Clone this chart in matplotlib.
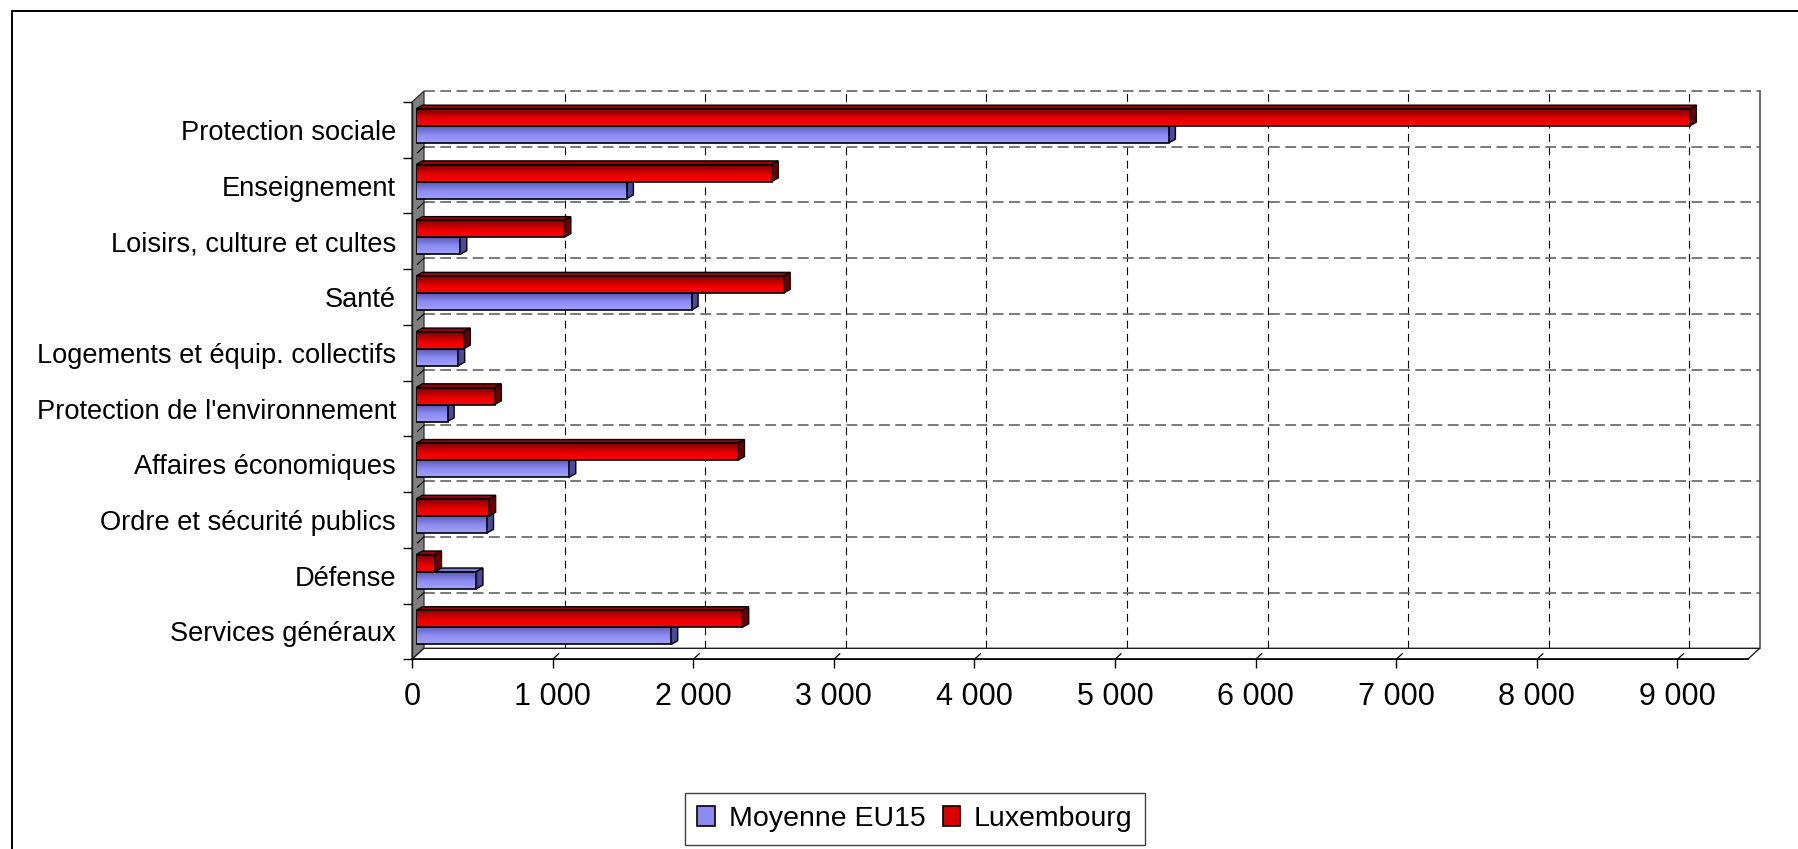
import numpy as np
import matplotlib
matplotlib.use("Agg")
import matplotlib.pyplot as plt
from matplotlib.patches import Polygon, Patch
from matplotlib.lines import Line2D
from matplotlib.colors import LinearSegmentedColormap

plt.rcParams['font.family'] = ['Liberation Sans', 'DejaVu Sans']

# ---------------- data (top to bottom, as in the chart) ----------------
categories = ["Protection sociale", "Enseignement", "Loisirs, culture et cultes",
              "Santé", "Logements et équip. collectifs",
              "Protection de l'environnement", "Affaires économiques",
              "Ordre et sécurité publics", "Défense", "Services généraux"]
eu15 = [5355, 1500, 315, 1960, 300, 225, 1090, 505, 430, 1815]
luxembourg = [9060, 2530, 1055, 2615, 340, 560, 2290, 520, 135, 2320]
series_names = ["Moyenne EU15", "Luxembourg"]
xticks = [0, 1000, 2000, 3000, 4000, 5000, 6000, 7000, 8000, 9000]
xtick_labels = ["0", "1 000", "2 000", "3 000", "4 000", "5 000",
                "6 000", "7 000", "8 000", "9 000"]
AXIS_MAX = 9500

# ---------------- layout helpers (pixels) ----------------
W, H = 1798, 849
fig = plt.figure(figsize=(W / 100, H / 100), dpi=100)


def rect(left, top, right, bottom):
    return [left / W, 1 - bottom / H, (right - left) / W, (bottom - top) / H]


def fpt(x, y):
    return (x / W, 1 - y / H)


FS_CAT = 19.6
FS_TICK = 22
FS_LEG = 20.5
n = len(categories)
ypos = np.arange(n)[::-1]
ylim = (-0.5, n - 0.5)

# plane geometry
BACK = (424, 91, 1759.7, 648.3)
MID = (416, 98, 1751.7, 655.3)
FRONT = (412, 102, 1747.7, 659.3)
band_px = (BACK[3] - BACK[1]) / n
unit_px = (BACK[2] - BACK[0]) / AXIS_MAX

# ---------------- back wall (gridlines) ----------------
ax_b = fig.add_axes(rect(*BACK), zorder=0)
ax_b.set_xlim(0, AXIS_MAX)
ax_b.set_ylim(*ylim)
ax_b.axis('off')
for xv in xticks[1:]:
    ax_b.axvline(xv, color='black', lw=0.8, ls=(0, (7, 5)))
for yb in np.arange(n) + 0.5:
    ax_b.axhline(yb, color='#707070', lw=1.3, ls=(0, (6, 3)), clip_on=False)
ax_b.axvline(AXIS_MAX, color='#606060', lw=1.3, clip_on=False)

# ---------------- left wall and floor ----------------
wall = Polygon([fpt(FRONT[0], FRONT[1]), fpt(FRONT[0], FRONT[3]),
                fpt(BACK[0], BACK[3]), fpt(BACK[0], BACK[1])],
               closed=True, transform=fig.transFigure, facecolor='#808080',
               edgecolor='#303030', lw=0.9, zorder=0.5)
fig.add_artist(wall)
floor = Polygon([fpt(FRONT[0], FRONT[3]), fpt(FRONT[2], FRONT[3]),
                 fpt(BACK[2], BACK[3]), fpt(BACK[0], BACK[3])],
                closed=True, transform=fig.transFigure, facecolor='white',
                edgecolor='#202020', lw=1.0, zorder=0.5)
fig.add_artist(floor)
# diagonal marks on the wall at band boundaries
for k in range(1, n):
    yf = FRONT[1] + k * band_px
    yb = BACK[1] + k * band_px
    x0 = FRONT[0] + 0.45 * (BACK[0] - FRONT[0])
    y0 = yf + 0.45 * (yb - yf)
    fig.add_artist(Line2D([x0 / W, BACK[0] / W], [1 - y0 / H, 1 - yb / H],
                          transform=fig.transFigure, color='black', lw=0.8,
                          zorder=0.6))

# ---------------- bars ----------------
ax_m = fig.add_axes(rect(*MID), zorder=1)
ax_m.set_facecolor('none')
ax_m.axis('off')

bar_h = 17 / band_px
dx = 6.5 / unit_px
dy = 3.7 / band_px

cmap_red = LinearSegmentedColormap.from_list(
    'r', [(0, '#ff0000'), (0.45, '#e60000'), (1, '#7c0000')])
cmap_blue = LinearSegmentedColormap.from_list(
    'b', [(0, '#a2a2ff'), (0.5, '#8a8af0'), (1, '#5a5ab4')])
grad = np.linspace(0, 1, 64).reshape(-1, 1)

series = [
    (eu15, -bar_h / 2, cmap_blue, '#7a7ad6', '#4a4a96', 2),
    (luxembourg, bar_h / 2, cmap_red, '#9a0000', '#6a0000', 6),
]
for vals, off, cmap, topc, sidec, z in series:
    bars = ax_m.barh(ypos + off, vals, height=bar_h, facecolor='none',
                     edgecolor='black', lw=1.2, zorder=z + 2)
    for p in bars:
        x0, y0, w, h = p.get_x(), p.get_y(), p.get_width(), p.get_height()
        top = Polygon([(x0, y0 + h), (x0 + w, y0 + h), (x0 + w + dx, y0 + h + dy),
                       (x0 + dx, y0 + h + dy)], closed=True, facecolor=topc,
                      edgecolor='black', lw=1.0, zorder=z)
        side = Polygon([(x0 + w, y0), (x0 + w + dx, y0 + dy),
                        (x0 + w + dx, y0 + h + dy), (x0 + w, y0 + h)],
                       closed=True, facecolor=sidec, edgecolor='black',
                       lw=1.0, zorder=z)
        ax_m.add_patch(top)
        ax_m.add_patch(side)
        im = ax_m.imshow(grad, cmap=cmap, origin='lower', aspect='auto',
                         extent=[x0, x0 + w, y0, y0 + h], zorder=z + 1,
                         interpolation='bilinear')
        im.set_clip_path(p)
ax_m.set_xlim(0, AXIS_MAX)
ax_m.set_ylim(*ylim)

# ---------------- front axes (labels, ticks) ----------------
ax_f = fig.add_axes(rect(*FRONT), zorder=2)
ax_f.set_facecolor('none')
ax_f.set_xlim(0, AXIS_MAX)
ax_f.set_ylim(*ylim)
for s in ['top', 'right']:
    ax_f.spines[s].set_visible(False)
ax_f.spines['bottom'].set_color('black')
ax_f.spines['bottom'].set_linewidth(1.1)
ax_f.spines['left'].set_color('#202020')
ax_f.spines['left'].set_linewidth(1.0)

ax_f.set_xticks(xticks)
ax_f.set_xticklabels(xtick_labels, fontsize=FS_TICK)
ax_f.tick_params(axis='x', direction='out', length=6.5, width=1.0,
                 pad=9.5, color='black')
ax_f.set_yticks(np.arange(n + 1) - 0.5)
ax_f.set_yticklabels([])
ax_f.set_yticks(ypos, minor=True)
ax_f.set_yticklabels(categories, minor=True, fontsize=FS_CAT)
ax_f.tick_params(axis='y', which='major', direction='out', length=6.5,
                 width=1.0, color='black')
ax_f.tick_params(axis='y', which='minor', length=0, pad=11.5)

# slanted depth marks on the floor at each x tick
ddx = (BACK[0] - FRONT[0]) * 0.5 / unit_px
ddy = (FRONT[3] - BACK[3]) * 0.5 / (FRONT[3] - FRONT[1])
for xv in xticks[1:]:
    ax_f.plot([xv, xv + ddx], [0, ddy], color='black', lw=0.9,
              transform=ax_f.get_xaxis_transform(), clip_on=False)

# ---------------- legend ----------------
handles = [Patch(facecolor='#8c8cee', edgecolor='black', lw=1.2),
           Patch(facecolor='#d80000', edgecolor='black', lw=1.2)]
leg = fig.legend(handles, series_names, loc='center',
                 bbox_to_anchor=((690 + 1140) / 2 / W, 1 - 819 / H),
                 ncol=2, fontsize=FS_LEG, frameon=True, fancybox=False,
                 edgecolor='#404040', framealpha=1, handlelength=0.6,
                 handleheight=0.7, handletextpad=0.5, columnspacing=0.6,
                 borderpad=0.45, borderaxespad=0)
leg.get_frame().set_linewidth(1.0)

# ---------------- outer border ----------------
fig.add_artist(Line2D([11.5 / W, 11.5 / W], [0, 1 - 10.5 / H],
                      transform=fig.transFigure, color='black', lw=1.4))
fig.add_artist(Line2D([11.5 / W, 1], [1 - 10.5 / H, 1 - 10.5 / H],
                      transform=fig.transFigure, color='black', lw=1.4))

fig.savefig('out.png', dpi=100, facecolor='white')
